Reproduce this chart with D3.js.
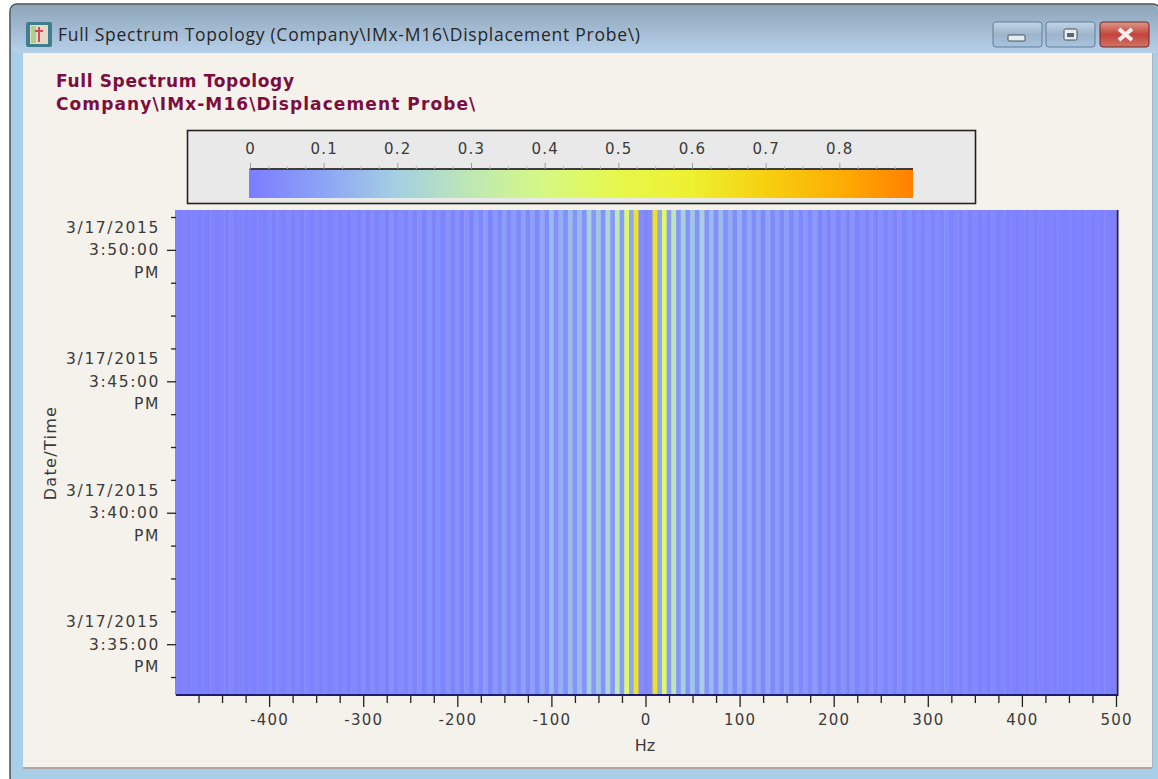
<!DOCTYPE html>
<html><head><meta charset="utf-8">
<script src="https://cdn.jsdelivr.net/npm/d3@7/dist/d3.min.js"></script>
<style>
html,body{margin:0;padding:0;background:#fff;overflow:hidden}
svg{display:block}
text{font-family:"DejaVu Sans",sans-serif}
.tk text{font-size:15px;fill:#3a3a3a;letter-spacing:1.2px}
</style></head><body><svg id="c" width="1158" height="779"></svg>
<script>
const windowTitle = "Full Spectrum Topology (Company\\IMx-M16\\Displacement Probe\\)";
const chartTitle = ["Full Spectrum Topology", "Company\\IMx-M16\\Displacement Probe\\"];
const titleSpacing = [0.65, 1.1];
const xLabel = "Hz", yLabel = "Date/Time";
const xMajor = [-400,-300,-200,-100,0,100,200,300,400,500];
const xMinor = [-475,-450,-425,-375,-350,-325,-275,-250,-225,-175,-150,-125,-75,-50,-25,25,50,75,125,150,175,225,250,275,325,350,375,425,450,475];
const legendMajor = [0,0.1,0.2,0.3,0.4,0.5,0.6,0.7,0.8];
const legendMinor = [0.025,0.05,0.075,0.125,0.15,0.175,0.225,0.25,0.275,0.325,0.35,0.375,0.425,0.45,0.475,0.525,0.55,0.575,0.625,0.65,0.675,0.725,0.75,0.775,0.825,0.85,0.875];
const colorStops = [0,0.1,0.2,0.3,0.4,0.5,0.6,0.7,0.8,0.9];
const colorValues = ["#7c7cff","#8ca4f6","#a4cfe2","#bde8b4","#d6f884","#e6f84c","#eef030","#f6d010","#fdae04","#ff8000"];
// amplitude per 5 Hz bin, from -500 Hz to +500 Hz
const amplitude = [
.01,.01,.02,.01,.02,.01,.02,.01,.02,.01,.02,.01,.03,.01,.02,.01,.02,.01,.02,.01,
.03,.01,.03,.01,.03,.01,.03,.01,.03,.01,.03,.01,.03,.01,.03,.01,.03,.01,.03,.01,
.04,.01,.04,.02,.04,.01,.05,.02,.04,.02,.05,.02,.05,.02,.06,.02,.05,.02,.06,.02,
.06,.02,.06,.02,.07,.03,.08,.02,.07,.03,.09,.03,.08,.03,.10,.03,.09,.03,.11,.04,
.15,.05,.13,.05,.16,.06,.15,.06,.21,.07,.18,.06,.23,.07,.30,.08,.44,.11,.64,.04,
.02,.04,.65,.11,.45,.08,.30,.07,.21,.06,.18,.06,.21,.06,.15,.05,.15,.05,.12,.04,
.13,.04,.11,.04,.10,.03,.11,.03,.09,.03,.09,.03,.08,.03,.07,.03,.08,.02,.06,.02,
.06,.02,.06,.02,.06,.02,.05,.02,.06,.02,.05,.02,.05,.02,.05,.02,.05,.02,.04,.02,
.04,.02,.04,.02,.04,.02,.03,.02,.04,.01,.03,.01,.03,.01,.03,.01,.03,.01,.02,.01,
.02,.01,.03,.01,.02,.01,.02,.01,.02,.01,.02,.01,.02,.01,.02,.01,.02,.01,.02,.01,.01
];
const binHz = 5;
const freqs = amplitude.map((_, i) => -500 + i * binHz);
const timeStart = new Date(2015,2,17,15,33,4), timeEnd = new Date(2015,2,17,15,51,31);
const yMajor = [new Date(2015,2,17,15,35),new Date(2015,2,17,15,40),new Date(2015,2,17,15,45),new Date(2015,2,17,15,50)];
const yMinor = [[33,45],[36,15],[37,30],[38,45],[41,15],[42,30],[43,45],[46,15],[47,30],[48,45],[51,15]].map(d=>new Date(2015,2,17,15,d[0],d[1]));

const svg = d3.select("#c");
const defs = svg.append("defs");
const tb = defs.append("linearGradient").attr("id","tb").attr("x1",0).attr("x2",0).attr("y1",0).attr("y2",1);
tb.append("stop").attr("offset",0).attr("stop-color","#8ea5b8");
tb.append("stop").attr("offset",1).attr("stop-color","#b6d0ea");
const mkBtn=(id,a,b,c)=>{const g=defs.append("linearGradient").attr("id",id).attr("x1",0).attr("x2",0).attr("y1",0).attr("y2",1);
 g.append("stop").attr("offset",0).attr("stop-color",a);g.append("stop").attr("offset",.5).attr("stop-color",b);g.append("stop").attr("offset",1).attr("stop-color",c);};
mkBtn("bb","#c4d6e8","#9db4cb","#a8c4de");mkBtn("br","#dc9a8c","#c4443a","#cf7466");
defs.append("filter").attr("id","soft").attr("x",0).attr("y",0).attr("width",1).attr("height",1).append("feGaussianBlur").attr("stdDeviation","0.4 0");

// window chrome
svg.append("rect").attr("x",10).attr("y",4).attr("width",1150).attr("height",780).attr("rx",7).attr("fill","#a9cfe8").attr("stroke","#4a4f50").attr("stroke-width",1.5);
svg.append("rect").attr("x",11).attr("y",5).attr("width",1147).attr("height",48).attr("rx",6).attr("fill","url(#tb)");
svg.append("rect").attr("x",23).attr("y",53).attr("width",1129).attr("height",714).attr("fill","#f5f2ec");
svg.append("line").attr("x1",23).attr("x2",1152).attr("y1",768).attr("y2",768).attr("stroke","#b6a5a5").attr("stroke-width",2);
svg.append("line").attr("x1",1152.5).attr("x2",1152.5).attr("y1",53).attr("y2",768).attr("stroke","#a9b4bc");
const ic = svg.append("g");
ic.append("rect").attr("x",26).attr("y",22).attr("width",26).attr("height",25).attr("rx",2).attr("fill","#3f7e8c");
ic.append("rect").attr("x",30).attr("y",25).attr("width",18).attr("height",19).attr("fill","#e7d9c8");
ic.append("rect").attr("x",31).attr("y",26).attr("width",5).attr("height",17).attr("fill","#a9d18e");
ic.append("path").attr("d","M39 27V42M35 31H43").attr("stroke","#d8485a").attr("stroke-width",2);
svg.append("text").attr("x",58).attr("y",41).text(windowTitle).style("font-family","'Open Sans'").style("font-size","17.5px").attr("fill","#262626").attr("textLength",582);
[[993,"bb"],[1046,"bb"],[1100,"br"]].forEach(([x,f],i)=>{
 svg.append("rect").attr("x",x).attr("y",22).attr("width",49).attr("height",25).attr("rx",3).attr("fill",`url(#${f})`).attr("stroke",i==2?"#6a2a2a":"#5f7f9a");
});
svg.append("rect").attr("x",1008).attr("y",35).attr("width",17).attr("height",6).attr("rx",1).attr("fill","#e6edf2").attr("stroke","#47525c");
svg.append("rect").attr("x",1064).attr("y",29).attr("width",13).attr("height",11).attr("rx",1.5).attr("fill","#e6edf2").attr("stroke","#47525c");
svg.append("rect").attr("x",1067).attr("y",33).attr("width",7).attr("height",4).attr("fill","#5a6672");
svg.append("path").attr("d","M1119 29L1132 40M1132 29L1119 40").attr("stroke","#f4eeee").attr("stroke-width",4);

// titles
svg.selectAll(".ct").data(chartTitle).join("text").attr("class","ct").attr("x",56).attr("y",(d,i)=>87+i*23)
 .text(d=>d).attr("fill","#7d0d3e").style("font-weight","bold").style("font-size","17px").style("letter-spacing",(d,i)=>titleSpacing[i]+"px");

// colour legend
const colour = d3.scaleLinear().domain(colorStops).range(colorValues).interpolate(d3.interpolateRgb);
const lx = d3.scaleLinear().domain([0,0.9]).range([250,913]);
svg.append("rect").attr("x",187.5).attr("y",130.5).attr("width",788).attr("height",73).attr("fill","#e9e9e9").attr("stroke","#222").attr("stroke-width",1.6);
const lg = defs.append("linearGradient").attr("id","lg");
colorStops.forEach((s,i)=>lg.append("stop").attr("offset",s/0.9).attr("stop-color",colorValues[i]));
svg.append("rect").attr("x",lx(0)-1).attr("y",168).attr("width",lx(0.9)-lx(0)+1).attr("height",30).attr("fill","url(#lg)");
const lAxis = d3.axisTop(lx).tickValues(legendMajor).tickSize(6).tickPadding(4).tickFormat(d3.format("~g"));
const lg1 = svg.append("g").attr("class","tk").attr("transform","translate(0,169)").call(lAxis);
lg1.select(".domain").attr("stroke","#3d3d3d").attr("stroke-width",2).attr("d",`M${lx(0)},0H${lx(0.9)}`);
lg1.selectAll("line").attr("stroke","#999");
lg1.selectAll("text").attr("dy",-5);
const lg2 = svg.append("g").attr("transform","translate(0,169)").call(d3.axisTop(lx).tickValues(legendMinor).tickSize(3).tickFormat(""));
lg2.select(".domain").remove();lg2.selectAll("line").attr("stroke","#bbb");

// heat map
const x = d3.scaleLinear().domain([-500,500]).range([175,1116]).clamp(true);
const y = d3.scaleTime().domain([timeStart,timeEnd]).range([695,210]);
svg.append("g").attr("filter","url(#soft)").selectAll("rect").data(freqs).join("rect")
 .attr("x",d=>x(d-binHz/2)).attr("width",d=>x(d+binHz/2)-x(d-binHz/2)+0.4)
 .attr("y",y(timeEnd)).attr("height",y(timeStart)-y(timeEnd))
 .attr("fill",(d,i)=>colour(amplitude[i]));
svg.append("path").attr("d",`M176,${y(timeStart)}H1117.5V${y(timeEnd)}`).attr("fill","none").attr("stroke","#1d1d70").attr("stroke-width",2);

// axes
const gx = svg.append("g").attr("class","tk").attr("transform","translate(0,696)")
 .call(d3.axisBottom(x).tickValues(xMajor).tickSize(11).tickPadding(7).tickFormat(d=>String(d)));
gx.select(".domain").remove();gx.selectAll("line").attr("stroke","#222").attr("stroke-width",1.3);
const gx2 = svg.append("g").attr("transform","translate(0,696)").call(d3.axisBottom(x).tickValues(xMinor).tickSize(7).tickFormat(""));
gx2.select(".domain").remove();gx2.selectAll("line").attr("stroke","#222").attr("stroke-width",1.3);
const gy = svg.append("g").attr("class","tk").attr("transform","translate(176,0)")
 .call(d3.axisLeft(y).tickValues(yMajor).tickSize(9).tickFormat(""));
gy.select(".domain").remove();gy.selectAll("line").attr("stroke","#222").attr("stroke-width",1.3);
const gy2 = svg.append("g").attr("transform","translate(176,0)").call(d3.axisLeft(y).tickValues(yMinor).tickSize(5).tickFormat(""));
gy2.select(".domain").remove();gy2.selectAll("line").attr("stroke","#222").attr("stroke-width",1.3);
const fmtD=d3.timeFormat("%-m/%-d/%Y"), fmtT=d3.timeFormat("%-I:%M:%S"), fmtP=d3.timeFormat("%p");
yMajor.forEach(t=>{
 [[fmtD,-22.5],[fmtT,0],[fmtP,22.5]].forEach(([f,dy])=>{
  svg.append("text").attr("x",160).attr("y",y(t)+dy+5.5).attr("text-anchor","end").text(f(t)).attr("fill","#3a3a3a").style("font-size","15.5px").style("letter-spacing","1.6px");
 });
});
svg.append("text").attr("x",645).attr("y",751).attr("text-anchor","middle").text(xLabel).attr("fill","#3a3a3a").style("font-size","16px");
svg.append("text").attr("transform","translate(56,453) rotate(-90)").attr("text-anchor","middle").text(yLabel).attr("fill","#3a3a3a").style("font-size","16px").style("letter-spacing","1.3px");
</script></body></html>
